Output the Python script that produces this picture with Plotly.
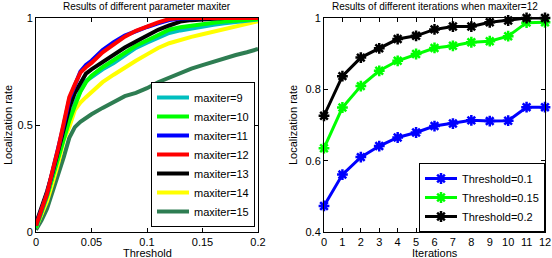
import plotly.graph_objects as go

# ---------------- data: left panel ----------------
threshold = [0, 0.005, 0.01, 0.015, 0.02, 0.025, 0.03, 0.035, 0.04, 0.045, 0.05,
             0.06, 0.07, 0.08, 0.09, 0.1, 0.11, 0.12, 0.13, 0.14, 0.15, 0.16,
             0.17, 0.18, 0.19, 0.2]

maxiter_9 = [0.02, 0.09, 0.17, 0.26, 0.35, 0.44, 0.53, 0.60, 0.66, 0.705, 0.725,
             0.76, 0.79, 0.825, 0.86, 0.885, 0.905, 0.93, 0.942, 0.952, 0.96, 0.968,
             0.975, 0.982, 0.988, 0.993]
maxiter_10 = [0.02, 0.09, 0.17, 0.26, 0.35, 0.44, 0.52, 0.59, 0.655, 0.70, 0.73,
              0.77, 0.805, 0.84, 0.87, 0.895, 0.92, 0.945, 0.957, 0.965, 0.972, 0.978,
              0.984, 0.988, 0.992, 0.995]
maxiter_11 = [0.03, 0.10, 0.18, 0.285, 0.385, 0.50, 0.62, 0.69, 0.75, 0.78, 0.80,
              0.85, 0.887, 0.918, 0.94, 0.958, 0.975, 0.99, 0.998, 1.0, 1.0, 1.0,
              1.0, 1.0, 1.0, 1.0]
maxiter_12 = [0.03, 0.10, 0.18, 0.289, 0.39, 0.51, 0.63, 0.69, 0.745, 0.77, 0.79,
              0.84, 0.878, 0.913, 0.94, 0.962, 0.98, 0.995, 1.0, 1.0, 1.0, 1.0,
              1.0, 1.0, 1.0, 1.0]
maxiter_13 = [0.04, 0.11, 0.19, 0.28, 0.38, 0.47, 0.58, 0.65, 0.70, 0.74, 0.76,
              0.795, 0.83, 0.862, 0.89, 0.92, 0.945, 0.965, 0.983, 0.99, 0.994, 0.997,
              1.0, 1.0, 1.0, 1.0]
maxiter_14 = [0.02, 0.08, 0.145, 0.23, 0.32, 0.43, 0.49, 0.57, 0.605, 0.63, 0.655,
              0.70, 0.735, 0.77, 0.80, 0.83, 0.86, 0.882, 0.898, 0.912, 0.924, 0.937,
              0.95, 0.962, 0.973, 0.985]
maxiter_15 = [0.01, 0.055, 0.11, 0.19, 0.26, 0.35, 0.44, 0.49, 0.515, 0.535, 0.55,
              0.58, 0.61, 0.635, 0.65, 0.672, 0.70, 0.722, 0.745, 0.763, 0.78, 0.797,
              0.812, 0.827, 0.84, 0.855]

left_names = ["maxiter=9", "maxiter=10", "maxiter=11", "maxiter=12",
              "maxiter=13", "maxiter=14", "maxiter=15"]
left_series = [maxiter_9, maxiter_10, maxiter_11, maxiter_12,
               maxiter_13, maxiter_14, maxiter_15]
left_colors = ["#00BFBF", "#00FF00", "#0000FF", "#FF0000",
               "#000000", "#FFFF00", "#2E7D52"]

# ---------------- data: right panel ----------------
iterations = [0, 1, 2, 3, 4, 5, 6, 7, 8, 9, 10, 11, 12]
thr_01 = [0.473, 0.561, 0.610, 0.641, 0.665, 0.679, 0.697, 0.704, 0.713, 0.711,
          0.712, 0.750, 0.750]
thr_015 = [0.635, 0.749, 0.809, 0.852, 0.880, 0.899, 0.916, 0.922, 0.932, 0.935,
           0.949, 0.987, 0.988]
thr_02 = [0.726, 0.837, 0.889, 0.915, 0.941, 0.950, 0.968, 0.976, 0.976, 0.988,
          0.993, 1.0, 1.0]
right_names = ["Threshold=0.1", "Threshold=0.15", "Threshold=0.2"]
right_series = [thr_01, thr_015, thr_02]
right_colors = ["#0000FF", "#00FF00", "#000000"]

W, H = 552, 258
FONT = "Liberation Sans, Arial, sans-serif"

fig = go.Figure()

# draw order so that red/blue lie on top, legend order by rank
order = [6, 5, 0, 1, 4, 2, 3]
for i in order:
    fig.add_trace(go.Scatter(
        x=threshold, y=left_series[i], mode="lines", name=left_names[i],
        line=dict(color=left_colors[i], width=4),
        xaxis="x", yaxis="y", legend="legend", legendrank=i + 1,
    ))

for i in range(3):
    fig.add_trace(go.Scatter(
        x=iterations, y=right_series[i], mode="lines+markers", name=right_names[i],
        line=dict(color=right_colors[i], width=3),
        marker=dict(symbol="asterisk-open", size=9,
                    line=dict(width=2.5, color=right_colors[i]), color=right_colors[i]),
        xaxis="x2", yaxis="y2", legend="legend2", cliponaxis=False,
    ))

ydom = [1 - 232 / H, 1 - 18 / H]
axis_common = dict(showline=True, linecolor="black", linewidth=1, mirror="allticks",
                   ticks="inside", ticklen=4, tickcolor="black", showgrid=False,
                   zeroline=False, automargin=False,
                   tickfont=dict(family=FONT, size=11, color="black"))

fig.update_layout(
    width=W, height=H,
    margin=dict(l=0, r=0, t=0, b=0, pad=0, autoexpand=False),
    paper_bgcolor="white", plot_bgcolor="white",
    font=dict(family=FONT, size=11, color="black"),
    xaxis=dict(domain=[36 / W, 258 / W], range=[0, 0.2],
               tickvals=[0, 0.05, 0.1, 0.15, 0.2],
               ticktext=["0", "0.05", "0.1", "0.15", "0.2"], anchor="y", **axis_common),
    yaxis=dict(domain=ydom, range=[0, 1], tickvals=[0, 0.5, 1],
               ticktext=["0", "0.5", "1"], anchor="x", **axis_common),
    xaxis2=dict(domain=[324 / W, 545 / W], range=[0, 12], tickvals=iterations,
                anchor="y2", **axis_common),
    yaxis2=dict(domain=ydom, range=[0.4, 1], tickvals=[0.4, 0.6, 0.8, 1],
                ticktext=["0.4", "0.6", "0.8", "1"], anchor="x2", **axis_common),
    legend=dict(x=255 / W, xanchor="right", y=1 - 227 / H, yanchor="bottom",
                bgcolor="white", bordercolor="black", borderwidth=1,
                font=dict(family=FONT, size=11), itemwidth=32,
                tracegroupgap=0, traceorder="normal"),
    legend2=dict(x=545 / W, xanchor="right", y=1 - 232 / H, yanchor="bottom",
                 bgcolor="white", bordercolor="black", borderwidth=1,
                 font=dict(family=FONT, size=11), itemwidth=32),
    showlegend=True,
)

ann = dict(xref="paper", yref="paper", showarrow=False, xanchor="center",
           font=dict(family=FONT, size=11, color="black"))
title_font = dict(family=FONT, size=10, color="black")
fig.add_annotation(text="Results of different parameter maxiter", x=147 / W,
                   y=1 - 6.5 / H, yanchor="middle", **{**ann, "font": title_font})
fig.add_annotation(text="Results of different iterations when maxiter=12", x=435 / W,
                   y=1 - 6.5 / H, yanchor="middle", **{**ann, "font": title_font})
fig.add_annotation(text="Threshold", x=147 / W, y=1 - 245 / H, yanchor="top", **ann)
fig.add_annotation(text="Iterations", x=435 / W, y=1 - 245 / H, yanchor="top", **ann)
fig.add_annotation(text="Localization rate", x=8 / W, y=(ydom[0] + ydom[1]) / 2,
                   textangle=-90, yanchor="middle", **ann)
fig.add_annotation(text="Localization rate", x=293 / W, y=(ydom[0] + ydom[1]) / 2,
                   textangle=-90, yanchor="middle", **ann)

fig.write_html("out.html", config={"displayModeBar": False},
               post_script="document.body.style.margin='0';document.body.style.padding='0';")
